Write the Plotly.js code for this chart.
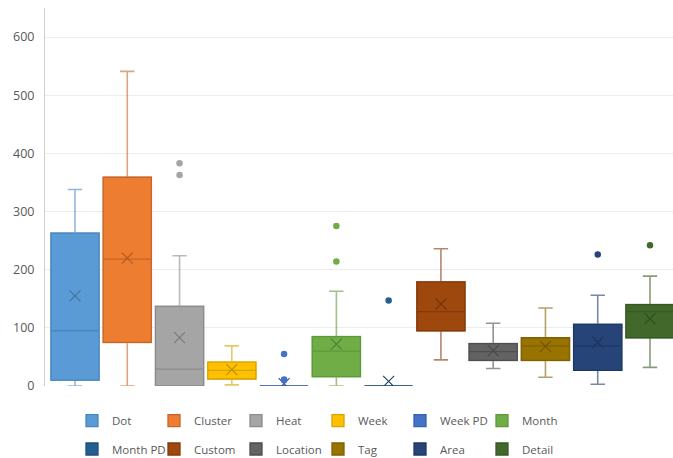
<!DOCTYPE html>
<html>
<head>
<meta charset="utf-8">
<script src="https://cdn.plot.ly/plotly-3.0.1.min.js"></script>
<style>html,body{margin:0;padding:0;background:#fff;}#chart{width:673px;height:458px;}</style>
</head>
<body>
<div id="chart"></div>
<script>
const categories = ['Dot','Cluster','Heat','Week','Week PD','Month','Month PD','Custom','Location','Tag','Area','Detail'];
const lowerFence = [0, 0, 0, 2, 0, 0, 0, 45, 30, 15, 3, 32];
const q1Values   = [10, 75, 0, 12, 0, 16, 0, 95, 44, 44, 27, 83];
const medians    = [95, 218, 29, 27, 0, 60, 0, 128, 59, 69, 69, 128];
const q3Values   = [263, 359, 137, 41, 0, 85, 0, 179, 73, 83, 106, 140];
const upperFence = [338, 541, 224, 69, 0, 163, 0, 236, 108, 134, 156, 189];
const means      = [155, 220, 83, 28, 4, 72, 8, 141, 61, 68, 75, 116];
const outlierCats = ['Heat','Heat','Week PD','Week PD','Week PD','Month','Month','Month PD','Area','Detail'];
const outlierVals = [383, 363, 55, 11, 10, 275, 214, 147, 226, 242];

const fills = ['#5B9BD5','#ED7D31','#A5A5A5','#FFC000','#4472C4','#70AD47','#255E91','#9E480E','#636363','#997300','#264478','#43682B'];
const edges = ['#4A86C0','#C8652A','#8C8C8C','#D9A300','#3862B0','#5E9A3A','#1D4E7C','#84390A','#4E4E4E','#806000','#1E3866','#375A22'];
const marks = ['#41719C','#AE5A21','#787878','#BC8C00','#2F528F','#507E32','#1B4469','#733409','#484848','#705400','#1C3258','#314B1F'];

function hexA(h, a) {
  const n = parseInt(h.slice(1), 16);
  return 'rgba(' + ((n >> 16) & 255) + ',' + ((n >> 8) & 255) + ',' + (n & 255) + ',' + a + ')';
}

// whiskers (drawn underneath, lighter like the original)
const whiskerTraces = categories.map((c, i) => ({
  type: 'box', name: c + ' whisker', x: [c],
  q1: [q1Values[i]], median: [medians[i]], q3: [q3Values[i]],
  lowerfence: [lowerFence[i]], upperfence: [upperFence[i]],
  fillcolor: 'rgba(0,0,0,0)',
  line: {color: hexA(edges[i], 0.6), width: 1.6},
  width: 0.92, whiskerwidth: 0.3, boxpoints: false, hoverinfo: 'skip', showlegend: false
}));

const boxTraces = categories.map((c, i) => ({
  type: 'box',
  name: c,
  x: [c],
  q1: [q1Values[i]], median: [medians[i]], q3: [q3Values[i]],
  lowerfence: [q1Values[i]], upperfence: [q3Values[i]],
  fillcolor: fills[i],
  line: {color: edges[i], width: 1.3},
  width: 0.92,
  whiskerwidth: 0,
  boxpoints: false,
  hoverinfo: 'skip',
  legend: i < 6 ? 'legend' : 'legend2'
}));

const traces = whiskerTraces.concat(boxTraces);

traces.push({
  type: 'scatter', mode: 'markers', x: categories, y: means, showlegend: false, hoverinfo: 'skip',
  marker: {symbol: 'x-thin-open', size: 11, color: marks, line: {width: 1.1, color: marks}}
});
traces.push({
  type: 'scatter', mode: 'markers', x: outlierCats, y: outlierVals, showlegend: false, hoverinfo: 'skip',
  marker: {symbol: 'circle', size: 6.5, color: outlierCats.map(c => fills[categories.indexOf(c)])}
});

const legendBase = {
  orientation: 'h', xref: 'container', yref: 'container', xanchor: 'left', yanchor: 'middle',
  x: 72/673, entrywidth: 37, entrywidthmode: 'pixels',
  font: {family: 'Open Sans, sans-serif', size: 11.5, color: '#595959'},
  bgcolor: 'rgba(0,0,0,0)', borderwidth: 0, traceorder: 'normal'
};

const layout = {
  width: 673, height: 458,
  margin: {l: 45, r: 0, t: 8, b: 72},
  paper_bgcolor: '#fff', plot_bgcolor: '#fff',
  font: {family: 'Open Sans, sans-serif', color: '#595959'},
  boxmode: 'overlay',
  xaxis: {type: 'category', categoryorder: 'array', categoryarray: categories,
          range: [-0.574, 11.44], showticklabels: false, showgrid: false, zeroline: false, showline: false, ticks: ''},
  yaxis: {range: [0, 650], tickvals: [0,100,200,300,400,500,600], showgrid: true, gridcolor: '#EDEDED', gridwidth: 1,
          zeroline: false, showline: true, linecolor: '#D0D0D0', linewidth: 1, ticks: '', ticklabelstandoff: 7,
          tickfont: {family: 'Open Sans, sans-serif', size: 12.5, color: '#595959'}},
  legend: Object.assign({}, legendBase, {y: 1 - 420.7/458}),
  legend2: Object.assign({}, legendBase, {y: 1 - 449/458}),
  showlegend: true
};

Plotly.newPlot('chart', traces, layout, {displayModeBar: false, staticPlot: true});
</script>
</body>
</html>
